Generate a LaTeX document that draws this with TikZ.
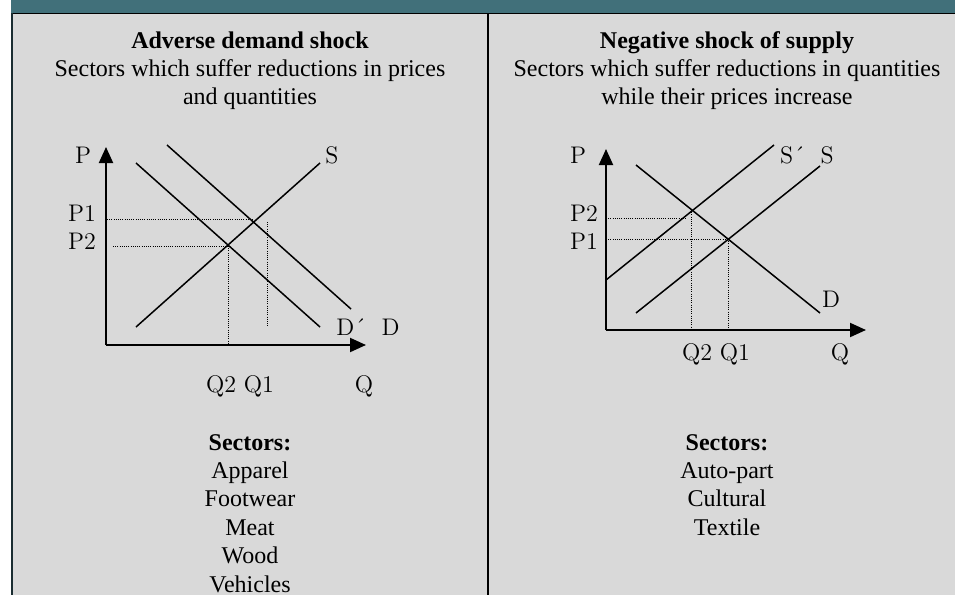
\documentclass[tikz,border=0pt]{standalone}
\usepackage{fontspec}
\newfontfamily\panelfont{Liberation Serif}
\usetikzlibrary{arrows.meta}
\definecolor{bandteal}{HTML}{41707A}
\definecolor{panelgray}{HTML}{D9D9D9}

\begin{document}
\begin{tikzpicture}[x=0.5pt, y=-0.5pt, >={Triangle[length=8pt,width=7pt]},
  txt/.style={font=\panelfont\fontsize{12}{14}\selectfont, anchor=base, inner sep=0pt},
  hdr/.style={txt, font=\panelfont\bfseries\fontsize{12}{14}\selectfont},
  lbl/.style={font=\fontsize{12}{14}\selectfont, anchor=base, inner sep=0pt},
  curve/.style={line width=0.75pt},
  axis/.style={line width=1pt, ->},
  guide/.style={line width=0.5pt, dash pattern=on 0.5pt off 0.6pt}]
  \useasboundingbox (0,0) rectangle (955,595);
  % background, band and frame
  \fill[white] (0,0) rectangle (955,595);
  \fill[panelgray] (12,13) rectangle (955,595);
  \fill[bandteal] (11,0) rectangle (955,13);
  \draw[line width=0.75pt] (11,13.5) -- (955,13.5);
  \draw[bandteal!40!black, line width=1.2pt] (11.8,13) -- (11.8,595);
  \draw[line width=0.75pt] (488,13) -- (488,595);

  % left panel: demand shock
  \node[hdr] (lhead) at (250,48) {Adverse demand shock};
  \node[txt] (lsub1) at (250,76) {Sectors which suffer reductions in prices};
  \node[txt] (lsub2) at (250,104) {and quantities};
  \coordinate (lo) at (106,345);
  \draw[axis] (lo) -- (106,147);
  \draw[axis] (lo) -- (366,345);
  \draw[curve] (136,327) -- (320,163);
  \draw[curve] (136,163) -- (320,327);
  \draw[curve] (167,145) -- (351,309);
  \draw[guide] (107,219) -- (254,219);
  \draw[guide] (267,222) -- (267,327);
  \draw[guide] (113,246) -- (228,246);
  \draw[guide] (228,246) -- (228,345);
  \node[lbl] (lp) at (83,163) {P};
  \node[lbl] (lp1) at (82,221) {P1};
  \node[lbl] (lp2) at (82,249) {P2};
  \node[lbl] (ls) at (332,163) {S};
  \node[lbl] (ld) at (368,335) {D´\ \ D};
  \node[lbl] (lq12) at (240,392) {Q2 Q1};
  \node[lbl] (lq) at (364,392) {Q};
  \node[hdr] (lsect) at (250,450) {Sectors:};
  \foreach \t [count=\i] in {Apparel,Footwear,Meat,Wood,Vehicles}
    \node[txt] (lsect\i) at (250,450+28.4*\i) {\t};

  % right panel: supply shock
  \node[hdr] (rhead) at (727,48) {Negative shock of supply};
  \node[txt] (rsub1) at (727,76) {Sectors which suffer reductions in quantities};
  \node[txt] (rsub2) at (727,104) {while their prices increase};
  \coordinate (ro) at (606,330);
  \draw[axis] (ro) -- (606,149);
  \draw[axis] (ro) -- (866,330);
  \draw[curve] (606,280) -- (774,145);
  \draw[curve] (636,313) -- (820,166);
  \draw[curve] (636,165) -- (820,313);
  \draw[guide] (606,218) -- (686,218);
  \draw[guide] (691,210) -- (691,330);
  \draw[guide] (606,239) -- (728,239);
  \draw[guide] (728,239) -- (728,330);
  \node[lbl] (rp) at (578,163) {P};
  \node[lbl] (rp2) at (584,221) {P2};
  \node[lbl] (rp1) at (584,249) {P1};
  \node[lbl] (rs) at (807,163) {S´\ \ S};
  \node[lbl] (rd) at (831,307) {D};
  \node[lbl] (rq12) at (716,360) {Q2 Q1};
  \node[lbl] (rq) at (840,360) {Q};
  \node[hdr] (rsect) at (727,450) {Sectors:};
  \foreach \t [count=\i] in {Auto-part,Cultural,Textile}
    \node[txt] (rsect\i) at (727,450+28.4*\i) {\t};
\end{tikzpicture}
\end{document}
